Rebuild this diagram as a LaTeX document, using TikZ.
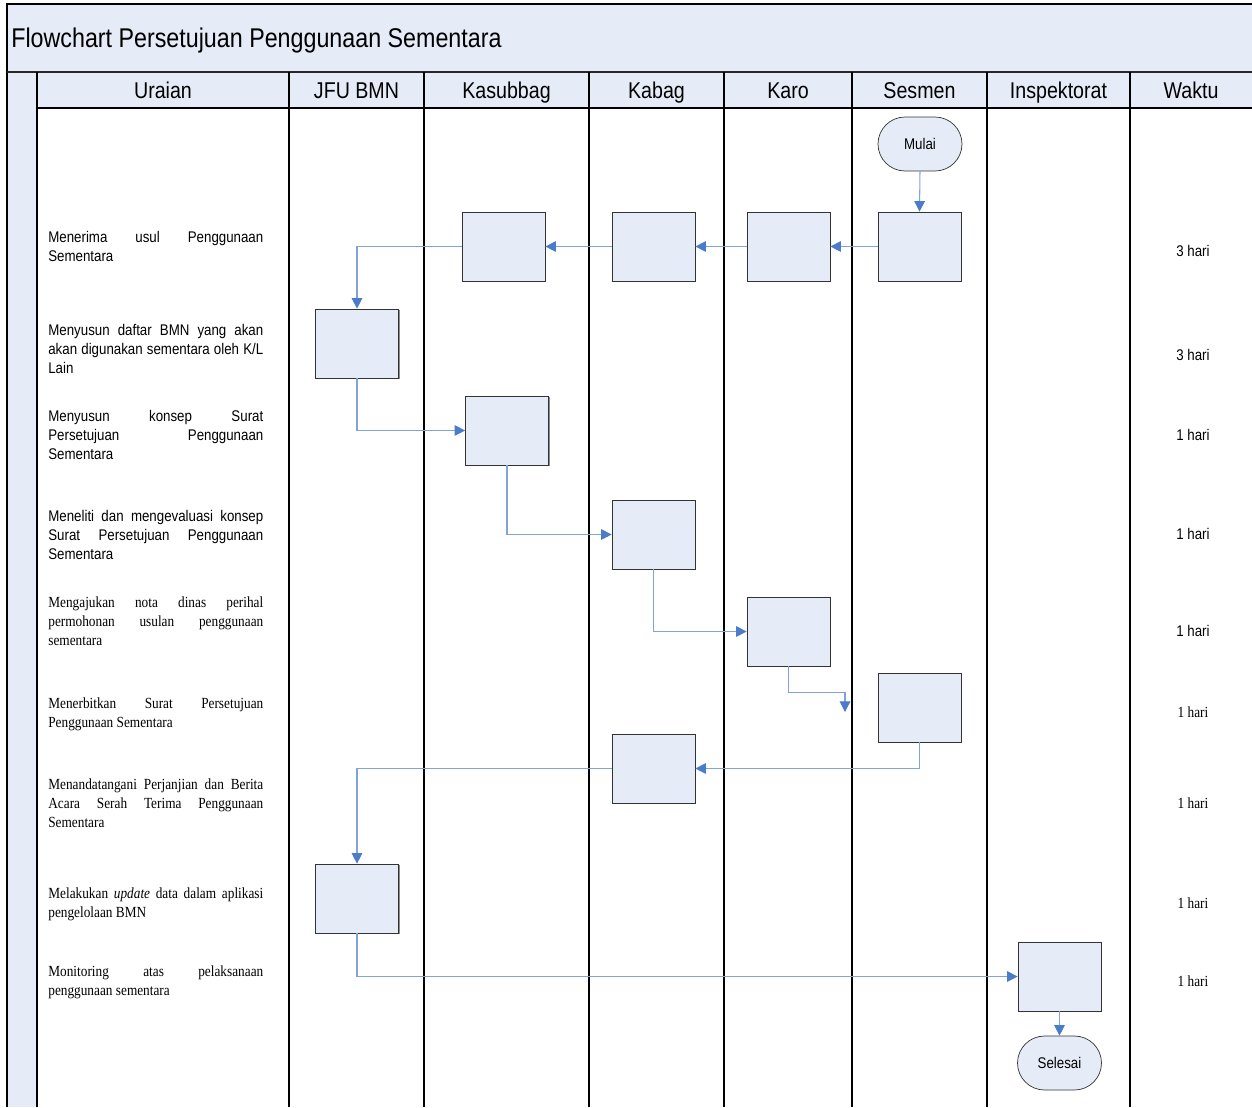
\documentclass[tikz,border=0pt]{standalone}
\usepackage{fontspec}
\setmainfont{Liberation Sans}[FakeStretch=0.86]
\newfontfamily\timesfont{Liberation Serif}[FakeStretch=0.86]
\usetikzlibrary{arrows.meta,shadows}
\definecolor{laneblue}{HTML}{E6ECF7}
\definecolor{linkblue}{HTML}{7FA3DA}
\definecolor{tipblue}{HTML}{4A7CC9}
\newlength\uraianw
\setlength\uraianw{4.3cm}
\newcommand\jline[1]{\makebox[\uraianw][s]{#1}}
\tikzset{
  procbox/.style={draw=black!80,fill=laneblue,minimum width=1.66cm,minimum height=1.38cm,inner sep=0pt,
    drop shadow={shadow xshift=0.7pt,shadow yshift=-0.7pt,fill=black!45,opacity=1}},
  termbox/.style={draw=black!80,fill=laneblue,rounded corners=0.54cm,minimum width=1.68cm,minimum height=1.08cm,
    font=\fontsize{8.8}{10}\selectfont},
  flow/.style={draw=linkblue,line width=0.6pt,-{Triangle[length=6pt,width=6pt,color=tipblue]}},
  uraian/.style={anchor=north west,inner sep=0pt,align=left,font=\fontsize{8.8}{10.8}\selectfont},
  uraianserif/.style={uraian,font=\timesfont\fontsize{8.8}{10.8}\selectfont},
  waktu/.style={inner sep=0pt,font=\fontsize{8.8}{10}\selectfont},
  waktuserif/.style={inner sep=0pt,font=\timesfont\fontsize{8.8}{10}\selectfont},
  lanehead/.style={anchor=base,inner sep=0pt,font=\fontsize{13}{15}\selectfont},
  laneline/.style={line width=0.9pt}
}
\begin{document}
\begin{tikzpicture}[x=0.02cm,y=-0.02cm]
            \useasboundingbox (0,0) rectangle (1252,1107);
            \fill[laneblue] (7,4) rectangle (1252,108);
            \fill[laneblue] (7,108) rectangle (37,1107);
            \draw[laneline] (7,1107) -- (7,4) -- (1252,4);
            \draw[line width=1.3pt,black!85] (7,72) -- (1252,72);
            \draw[laneline] (37,108) -- (1252,108);
            \foreach \x in {37,289,424,589,724,852,987,1130}
              \draw[laneline] (\x,72) -- (\x,1107);
            \node[anchor=west,inner sep=0pt,font=\fontsize{15.4}{17}\selectfont] (title) at (11,40) {Flowchart Persetujuan Penggunaan Sementara};
            \node[lanehead] (hUraian) at (163,98) {Uraian};
            \node[lanehead] (hJfu) at (356.5,98) {JFU BMN};
            \node[lanehead] (hKasubbag) at (506.5,98) {Kasubbag};
            \node[lanehead] (hKabag) at (656.5,98) {Kabag};
            \node[lanehead] (hKaro) at (788,98) {Karo};
            \node[lanehead] (hSesmen) at (919.5,98) {Sesmen};
            \node[lanehead] (hInspektorat) at (1058.5,98) {Inspektorat};
            \node[lanehead] (hWaktu) at (1191,98) {Waktu};

            \node[uraian] (u1) at (48,231) {\jline{Menerima usul Penggunaan}\\Sementara};
            \node[uraian] (u2) at (48,324) {\jline{Menyusun daftar BMN yang akan}\\\jline{akan digunakan sementara oleh K/L}\\Lain};
            \node[uraian] (u3) at (48,410) {\jline{Menyusun konsep Surat}\\\jline{Persetujuan Penggunaan}\\Sementara};
            \node[uraian] (u4) at (48,510) {\jline{Meneliti dan mengevaluasi konsep}\\\jline{Surat Persetujuan Penggunaan}\\Sementara};
            \node[uraianserif] (u5) at (48,596) {\jline{Mengajukan nota dinas perihal}\\\jline{permohonan usulan penggunaan}\\sementara};
            \node[uraianserif] (u6) at (48,697) {\jline{Menerbitkan Surat Persetujuan}\\Penggunaan Sementara};
            \node[uraianserif] (u7) at (48,778) {\jline{Menandatangani Perjanjian dan Berita}\\\jline{Acara Serah Terima Penggunaan}\\Sementara};
            \node[uraianserif] (u8) at (48,887) {\jline{Melakukan \textit{update} data dalam aplikasi}\\pengelolaan BMN};
            \node[uraianserif] (u9) at (48,965) {\jline{Monitoring atas pelaksanaan}\\penggunaan sementara};

            \node[waktu] (w1) at (1193,251) {3 hari};
            \node[waktu] (w2) at (1193,355) {3 hari};
            \node[waktu] (w3) at (1193,435) {1 hari};
            \node[waktu] (w4) at (1193,534) {1 hari};
            \node[waktu] (w5) at (1193,631) {1 hari};
            \node[waktuserif] (w6) at (1193,712) {1 hari};
            \node[waktuserif] (w7) at (1193,803) {1 hari};
            \node[waktuserif] (w8) at (1193,903) {1 hari};
            \node[waktuserif] (w9) at (1193,981) {1 hari};

            \node[termbox] (mulai) at (920,144) {Mulai};
            \node[procbox] (ses1) at (919.5,246.5) {};
            \node[procbox] (kro1) at (788.5,246.5) {};
            \node[procbox] (kbg1) at (653.5,246.5) {};
            \node[procbox] (ksb1) at (503.5,246.5) {};
            \node[procbox] (jfu1) at (357,343.5) {};
            \node[procbox] (ksb2) at (507,430.5) {};
            \node[procbox] (kbg2) at (653.5,534.5) {};
            \node[procbox] (kro2) at (788.5,631.5) {};
            \node[procbox] (ses2) at (919.5,707.5) {};
            \node[procbox] (kbg3) at (653.5,768.5) {};
            \node[procbox] (jfu2) at (357,898.5) {};
            \node[procbox] (ins1) at (1059.5,976.5) {};
            \node[termbox] (selesai) at (1059.5,1063) {Selesai};
            \coordinate (kroend) at (845,712);

            \draw[flow] (mulai.south) -- (ses1.north);
            \draw[flow] (ses1.west) -- (kro1.east);
            \draw[flow] (kro1.west) -- (kbg1.east);
            \draw[flow] (kbg1.west) -- (ksb1.east);
            \draw[flow] (ksb1.west) -| (jfu1.north);
            \draw[flow] (jfu1.south) |- (ksb2.west);
            \draw[flow] (ksb2.south) |- (kbg2.west);
            \draw[flow] (kbg2.south) |- (kro2.west);
            \draw[flow] (kro2.south) -- ++(0,26) -| (kroend);
            \draw[flow] (ses2.south) |- (kbg3.east);
            \draw[flow] (kbg3.west) -| (jfu2.north);
            \draw[flow] (jfu2.south) |- (ins1.west);
            \draw[flow] (ins1.south) -- (selesai.north);
            \end{tikzpicture}
\end{document}
